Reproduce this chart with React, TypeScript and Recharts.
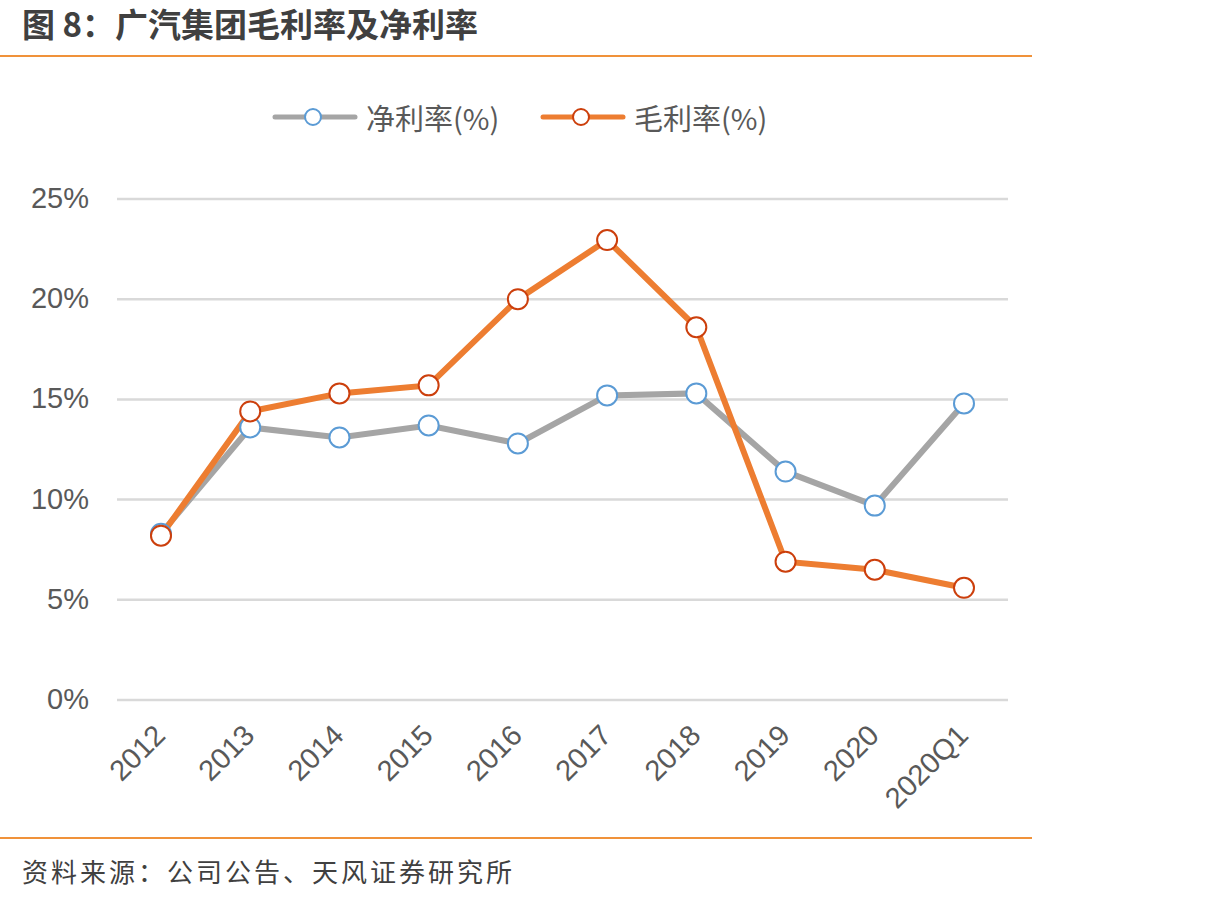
import React from 'react';
import { LineChart, Line, XAxis, YAxis, CartesianGrid } from 'recharts';

const categories = ['2012', '2013', '2014', '2015', '2016', '2017', '2018', '2019', '2020', '2020Q1'];
const netMargin = [8.3, 13.6, 13.1, 13.7, 12.8, 15.2, 15.3, 11.4, 9.7, 14.8];
const grossMargin = [8.2, 14.4, 15.3, 15.7, 20.0, 22.95, 18.6, 6.9, 6.5, 5.6];
const yTicks = [0, 5, 10, 15, 20, 25];

const data = categories.map((c, i) => ({ name: c, net: netMargin[i], gross: grossMargin[i] }));

const GRAY = '#a5a5a5';
const ORANGE = '#ed7d31';
const BLUE_DOT = '#5b9bd5';
const RED_DOT = '#cc3f0c';
const TEXT = '#595959';
const RULE = '#f0923a';

const XTick = (props: any) => {
  const { x, y, payload } = props;
  const px = x + 6;
  const py = y + 37;
  return (
    <text
      x={px}
      y={py}
      textAnchor="end"
      fontSize={29}
      fontFamily="'Liberation Sans', Arial, sans-serif"
      fill={TEXT}
      transform={`rotate(-45, ${px}, ${py})`}
    >
      {payload.value}
    </text>
  );
};

const YTick = (props: any) => {
  const { x, y, payload } = props;
  return (
    <text
      x={x - 28}
      y={y}
      dy={9}
      textAnchor="end"
      fontSize={29}
      fontFamily="'Liberation Sans', Arial, sans-serif"
      fill={TEXT}
    >
      {payload.value}%
    </text>
  );
};

function LegendItem({ left, color, dotColor, label }: { left: number; color: string; dotColor: string; label: string }) {
  return (
    <div style={{ position: 'absolute', left, top: 97, height: 40, display: 'flex', alignItems: 'center' }}>
      <svg width={86} height={40}>
        <line x1={3} y1={20} x2={83} y2={20} stroke={color} strokeWidth={5} strokeLinecap="round" />
        <circle cx={41} cy={20} r={8} fill="#fff" stroke={dotColor} strokeWidth={2} />
      </svg>
      <span
        style={{
          marginLeft: 8,
          fontSize: 29,
          color: TEXT,
          fontFamily: "'Noto Sans CJK SC', sans-serif",
          lineHeight: '40px',
          whiteSpace: 'nowrap',
        }}
      >
        {label}
      </span>
    </div>
  );
}

export default function App() {
  return (
    <div style={{ position: 'absolute', left: 0, top: 0, width: 1223, height: 902, background: '#fff', overflow: 'hidden' }}>
      <div
        style={{
          position: 'absolute',
          left: 22,
          top: 0,
          fontSize: 33,
          fontWeight: 700,
          color: '#404040',
          fontFamily: "'Noto Sans CJK SC', sans-serif",
          whiteSpace: 'nowrap',
          lineHeight: '46px',
        }}
      >
        图 8：广汽集团毛利率及净利率
      </div>
      <div style={{ position: 'absolute', left: 0, top: 55, width: 1032, height: 2, background: RULE }} />

      <LegendItem left={272} color={GRAY} dotColor={BLUE_DOT} label="净利率(%)" />
      <LegendItem left={540} color={ORANGE} dotColor={RED_DOT} label="毛利率(%)" />

      <div style={{ position: 'absolute', left: 0, top: 0 }}>
        <LineChart width={1040} height={830} data={data} margin={{ top: 199, right: 32, bottom: 0, left: 0 }}>
          <CartesianGrid vertical={false} stroke="#d9d9d9" strokeWidth={2.5} />
          <XAxis
            dataKey="name"
            axisLine={false}
            tickLine={false}
            tickSize={0}
            tickMargin={0}
            height={130}
            interval={0}
            padding={{ left: 44, right: 44 }}
            tick={<XTick />}
          />
          <YAxis
            domain={[0, 25]}
            ticks={yTicks}
            axisLine={false}
            tickLine={false}
            tickSize={0}
            tickMargin={0}
            width={117}
            tick={<YTick />}
          />
          <Line
            dataKey="net"
            stroke={GRAY}
            strokeWidth={6}
            dot={{ r: 10, fill: '#fff', stroke: BLUE_DOT, strokeWidth: 2 }}
            activeDot={false}
            isAnimationActive={false}
          />
          <Line
            dataKey="gross"
            stroke={ORANGE}
            strokeWidth={6}
            dot={{ r: 10, fill: '#fff', stroke: RED_DOT, strokeWidth: 2 }}
            activeDot={false}
            isAnimationActive={false}
          />
        </LineChart>
      </div>

      <div style={{ position: 'absolute', left: 0, top: 837, width: 1032, height: 2, background: RULE }} />
      <div
        style={{
          position: 'absolute',
          left: 22,
          top: 852,
          fontSize: 26,
          letterSpacing: 3,
          color: '#404040',
          fontFamily: "'Noto Sans CJK SC', sans-serif",
          whiteSpace: 'nowrap',
          lineHeight: '38px',
        }}
      >
        资料来源：公司公告、天风证券研究所
      </div>
    </div>
  );
}
